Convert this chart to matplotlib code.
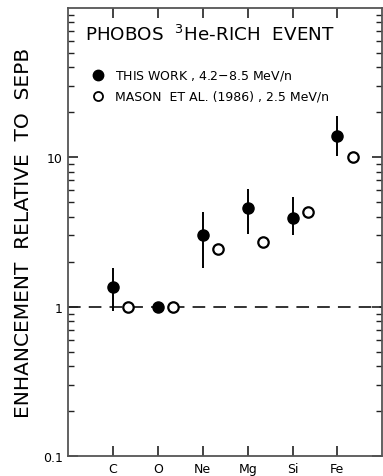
import matplotlib.pyplot as plt
from matplotlib.ticker import LogLocator, NullFormatter

elements = ['C', 'O', 'Ne', 'Mg', 'Si', 'Fe']

# this work, 4.2-8.5 MeV/n
this_work = [1.36, 1.0, 3.03, 4.57, 3.94, 13.9]
this_lo = [0.93, 1.0, 1.81, 3.06, 3.02, 10.2]
this_hi = [1.81, 1.0, 4.32, 6.13, 5.39, 18.8]

# Mason et al. (1986), 2.5 MeV/n
mason = [1.0, 1.0, 2.43, 2.72, 4.28, 10.1]

x = list(range(1, len(elements) + 1))
x_open = [v + 0.34 for v in x]

fig = plt.figure(figsize=(3.83, 4.77), dpi=100)
ax = fig.add_axes([0.178, 0.0415, 0.82, 0.940])

ax.axhline(1.0, color='#222222', lw=1.3, dashes=(7, 4.5), zorder=1)

yerr = [[v - lo for v, lo in zip(this_work, this_lo)],
        [hi - v for v, hi in zip(this_work, this_hi)]]
ax.errorbar(x, this_work, yerr=yerr, fmt='o', color='black', ms=8,
            elinewidth=1.4, capsize=0, zorder=3)
ax.plot(x_open, mason, 'o', mfc='white', mec='black', mew=1.6, ms=7.5,
        ls='none', zorder=3)

ax.set_yscale('log')
ax.set_ylim(0.1, 100)
ax.set_xlim(0, 7)
ax.set_xticks(x)
ax.set_xticklabels(elements, fontsize=9)
ax.set_yticks([0.1, 1, 10])
ax.set_yticklabels(['0.1', '1', '10'], fontsize=9)
ax.yaxis.set_minor_locator(LogLocator(base=10, subs=range(2, 10)))
ax.yaxis.set_minor_formatter(NullFormatter())

ax.tick_params(which='both', direction='in', top=True, right=True,
               color='#222222')
ax.tick_params(which='major', length=7, width=1.2, pad=4)
ax.tick_params(which='minor', length=4, width=1.0)
for s in ax.spines.values():
    s.set_color('#555555')
    s.set_linewidth(1.3)

ax.set_ylabel('ENHANCEMENT  RELATIVE  TO  SEPB', fontsize=14.5)
ax.yaxis.set_label_coords(-0.112, 0.5)

ax.text(0.055, 0.941, r'PHOBOS  $^{3}$He-RICH  EVENT', transform=ax.transAxes,
        fontsize=13.2, va='center', ha='left')

ax.plot([0.096], [0.85], 'o', color='black', ms=7.5, transform=ax.transAxes,
        clip_on=False)
ax.text(0.148, 0.85, 'THIS WORK , 4.2$-$8.5 MeV/n', transform=ax.transAxes,
        fontsize=9, va='center')
ax.plot([0.096], [0.803], 'o', mfc='white', mec='black', mew=1.3, ms=6.5,
        transform=ax.transAxes, clip_on=False)
ax.text(0.148, 0.803, 'MASON  ET AL. (1986) , 2.5 MeV/n', transform=ax.transAxes,
        fontsize=9, va='center')

plt.savefig('out.png', dpi=100)
plt.close(fig)
